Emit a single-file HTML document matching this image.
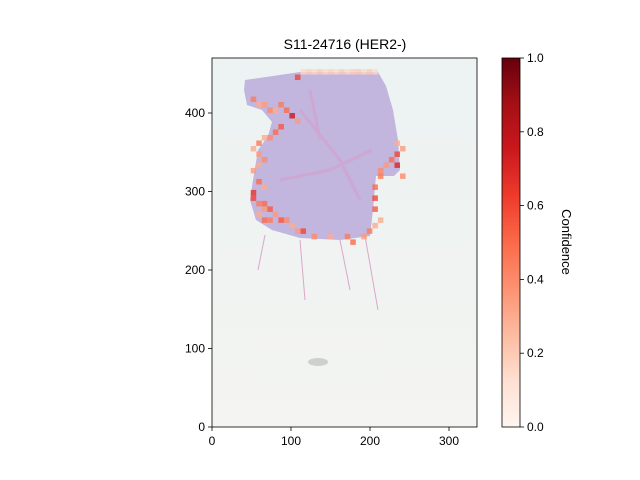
<!DOCTYPE html>
<html><head><meta charset="utf-8"><style>
body{margin:0;background:#fff;}
svg{display:block;font-family:"Liberation Sans",sans-serif;}
</style></head><body>
<svg id="chart" width="640" height="480" viewBox="0 0 640 480">
<defs>
<linearGradient id="reds" x1="0" y1="1" x2="0" y2="0">
<stop offset="0" stop-color="#fff5f0"/><stop offset="0.125" stop-color="#fee0d2"/>
<stop offset="0.25" stop-color="#fcbba1"/><stop offset="0.375" stop-color="#fc9272"/>
<stop offset="0.5" stop-color="#fb6a4a"/><stop offset="0.625" stop-color="#ef3b2c"/>
<stop offset="0.75" stop-color="#cb181d"/><stop offset="0.875" stop-color="#a50f15"/>
<stop offset="1" stop-color="#67000d"/></linearGradient>
<linearGradient id="bg" x1="0" y1="0" x2="0" y2="1">
<stop offset="0" stop-color="#ecf3f2"/><stop offset="0.6" stop-color="#f0f3f1"/><stop offset="1" stop-color="#f4f4f2"/></linearGradient>
</defs>
<text x="345" y="49" font-size="14" text-anchor="middle">S11-24716 (HER2-)</text>
<rect x="212" y="58" width="265" height="369" fill="url(#bg)"/>
<polygon fill="#bcaedb" opacity="0.9" points="245,80 300,72 378,72 386,86 393,110 398,140 400,170 394,176 376,176 373,210 370,236 340,240 300,238 272,230 256,220 250,200 253,180 258,150 268,136 272,122 262,110 247,105 244,90"/>
<path d="M300,110 L340,160 L360,200 M280,180 L330,170 L372,150 M310,90 L320,140" stroke="#d99ac8" stroke-width="3" fill="none" opacity="0.5"/>
<path d="M265,235 L258,270 M300,240 L305,300 M340,240 L350,290 M365,236 L378,310" stroke="#d9a8c8" stroke-width="1" fill="none"/>
<ellipse cx="318" cy="362" rx="10" ry="4" fill="#cfcfcf"/>
<g id="cells"></g>
<rect x="212" y="58" width="265" height="369" fill="none" stroke="#000" stroke-width="0.8"/>
<g id="axes"></g>
<rect x="502" y="58" width="18" height="369" fill="url(#reds)" stroke="#000" stroke-width="0.8"/>
<text transform="translate(562,242) rotate(90)" font-size="13" text-anchor="middle">Confidence</text>
</svg>
<script>
const xTicks=[0,100,200,300];
const yTicks=[0,100,200,300,400];
const cbTicks=[0,0.2,0.4,0.6,0.8,1.0];
// heatmap cells: x (data), y (data), confidence
const cellX=[112,119,126,133,140,147,154,161,168,175,182,189,196,203,105, 49,56,63,70,77,84, 91,98,105,84,77,70,63,56,49, 56,63,56,49,56,63, 49,56,63,56,63,70,77,84,91,98, 105,112,126,147,168,175,189,196,203,210, 203,203,203,210,210,217, 231,224,231,238,231,238, 63,70,49];
const cellY=[449,449,449,449,449,449,449,449,449,449,449,449,449,449,442, 414,407,407,400,400,407, 400,393,386,379,372,365,365,358,351, 344,337,330,323,309,302, 288,281,274,267,260,260,267,260,260,253, 246,246,239,239,239,232,239,246,253,260, 274,288,302,316,323,330, 330,337,344,351,358,316, 281,274,295];
const cellV=[0.15,0.18,0.15,0.2,0.15,0.18,0.15,0.2,0.15,0.18,0.2,0.15,0.2,0.15,0.6, 0.45,0.3,0.35,0.4,0.3,0.45, 0.5,0.75,0.35,0.55,0.5,0.4,0.3,0.45,0.3, 0.35,0.4,0.3,0.35,0.5,0.3, 0.6,0.45,0.35,0.3,0.5,0.45,0.35,0.55,0.4,0.3, 0.35,0.6,0.4,0.3,0.45,0.5,0.35,0.45,0.3,0.3, 0.55,0.6,0.5,0.45,0.4,0.35, 0.7,0.5,0.6,0.35,0.3,0.4, 0.5,0.55,0.65];
const NS='http://www.w3.org/2000/svg';
const X=v=>212+v*0.79, Y=v=>427-v*0.785, CB=v=>427-v*369;
function col(t){const s=[[255,245,240],[254,224,210],[252,187,161],[252,146,114],[251,106,74],[239,59,44],[203,24,29],[165,15,21],[103,0,13]];
 const p=Math.min(Math.max(t,0),1)*8,i=Math.min(Math.floor(p),7),f=p-i;
 return 'rgb('+s[i].map((c,k)=>Math.round(c+(s[i+1][k]-c)*f)).join(',')+')';}
const g=document.getElementById('cells');
for(let i=0;i<cellX.length;i++){
 const r=document.createElementNS(NS,'rect');
 r.setAttribute('x',X(cellX[i]));r.setAttribute('y',Y(cellY[i]+7));
 r.setAttribute('width',X(7)-X(0));r.setAttribute('height',Y(0)-Y(7));
 r.setAttribute('fill',col(cellV[i]));r.setAttribute('opacity','0.8');
 
 
 g.appendChild(r);}
const a=document.getElementById('axes');
function line(x1,y1,x2,y2){const l=document.createElementNS(NS,'line');l.setAttribute('x1',x1);l.setAttribute('y1',y1);l.setAttribute('x2',x2);l.setAttribute('y2',y2);l.setAttribute('stroke','#000');l.setAttribute('stroke-width','0.8');a.appendChild(l);return l;}
function txt(x,y,s,anc){const t=document.createElementNS(NS,'text');t.setAttribute('x',x);t.setAttribute('y',y);t.setAttribute('font-size','12');t.setAttribute('text-anchor',anc);t.textContent=s;a.appendChild(t);return t;}
xTicks.forEach(v=>{const l=line(X(v),427,X(v),431);
 
 
 const t=txt(X(v),445,String(v),'middle');
 
 });
yTicks.forEach(v=>{const l=line(208,Y(v),212,Y(v));
 
 
 const t=txt(205,Y(v)+4,String(v),'end');
 
 });
cbTicks.forEach(v=>{const l=line(520,CB(v),524,CB(v));
 
 
 const t=txt(527,CB(v)+4,v.toFixed(1),'start');
 
 });
</script>
</body></html>
